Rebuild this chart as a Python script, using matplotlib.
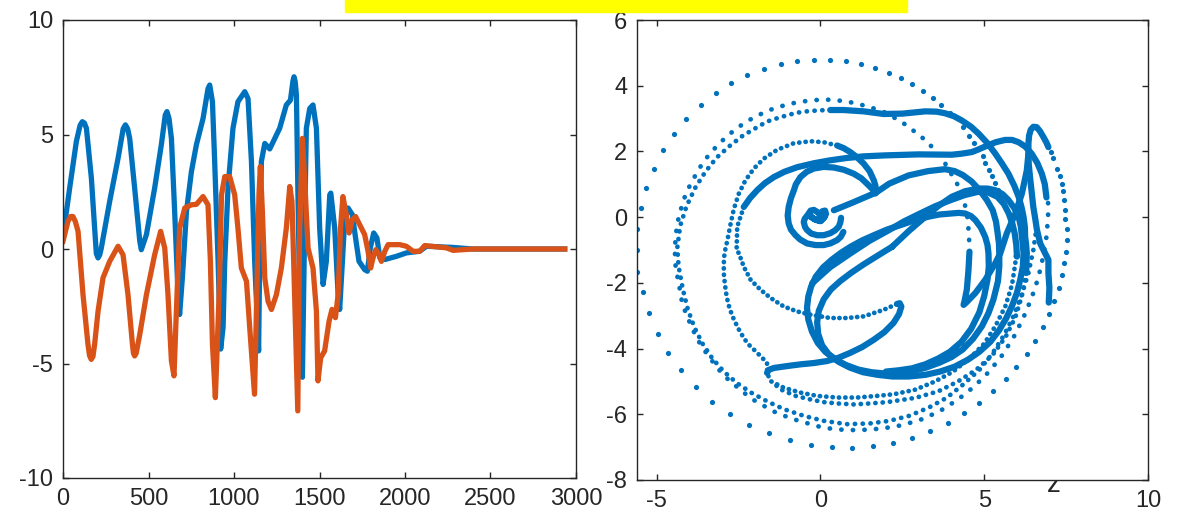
import matplotlib
matplotlib.use("Agg")
import matplotlib.pyplot as plt
from matplotlib.patches import Rectangle

plt.rcParams['font.family'] = ['Liberation Sans', 'DejaVu Sans']
plt.rcParams['axes.unicode_minus'] = False

BLUE = '#0072BD'
ORANGE = '#D95319'
INK = '#262626'

# ---- left panel: two time series ----
t_blue = [0, 39, 78, 100, 113, 125, 137, 166, 185, 195, 205, 215, 224, 273, 322, 352, 365, 378,
          390, 419, 449, 458, 488, 536, 575, 598, 608, 620, 634, 653, 673, 682, 698, 722, 751,
          780, 819, 848, 858, 874, 887, 907, 922, 936, 946, 965, 994, 1023, 1063, 1082, 1102,
          1121, 1144, 1150, 1160, 1180, 1209, 1267, 1306, 1330, 1345, 1351, 1358, 1365, 1374,
          1384, 1400, 1413, 1423, 1443, 1462, 1482, 1501, 1521, 1540, 1560, 1566, 1589, 1609,
          1618, 1634, 1648, 1667, 1692, 1711, 1731, 1764, 1780, 1797, 1817, 1836, 1853, 1882,
          1950, 2008, 2086, 2125, 2279, 2396, 2934]
v_blue = [0.55, 2.66, 4.69, 5.4, 5.56, 5.5, 5.27, 3.09, 0.91, -0.2, -0.39, -0.25, 0.04, 2.08,
          3.96, 5.25, 5.42, 5.25, 4.83, 2.66, 0.34, -0.03, 0.63, 2.66, 4.55, 5.85, 6.0, 5.7,
          4.83, 1.64, -1.99, -2.86, -1.26, 1.64, 3.38, 4.55, 5.70, 7.0, 7.16, 6.43, 3.82, -0.54,
          -4.37, -3.44, -0.54, 2.66, 5.27, 6.43, 6.87, 6.57, 3.82, -0.54, -4.45, -0.54, 3.82,
          4.61, 4.37, 5.27, 6.29, 6.5, 7.35, 7.52, 7.3, 6.72, 2.37, -1.99, -5.6, 0.91, 5.27,
          6.14, 6.29, 5.27, 0.91, -1.55, -0.54, 2.37, 2.44, 0.91, -1.99, -2.64, -0.54, 1.35,
          1.79, 1.50, 0.48, -0.54, -0.90, -0.97, 0.04, 0.7, 0.48, -0.39, -0.46, -0.32, -0.17,
          -0.1, 0.12, 0.07, 0.0, 0.0]

t_orange = [0, 29, 45, 58, 72, 88, 117, 146, 155, 165, 175, 185, 205, 234, 273, 322, 351, 380,
            406, 412, 419, 428, 449, 488, 536, 571, 595, 614, 634, 649, 663, 682, 712, 751, 780,
            819, 848, 862, 874, 891, 913, 927, 946, 975, 1004, 1023, 1043, 1073, 1092, 1120,
            1131, 1146, 1154, 1166, 1180, 1199, 1219, 1248, 1277, 1306, 1326, 1339, 1349, 1373,
            1384, 1400, 1413, 1433, 1462, 1482, 1491, 1507, 1530, 1556, 1573, 1593, 1609, 1623,
            1637, 1657, 1673, 1692, 1711, 1735, 1764, 1784, 1799, 1813, 1829, 1848, 1862, 1882,
            1901, 1969, 2008, 2047, 2086, 2115, 2242, 2281, 2396, 2934]
v_orange = [0.34, 1.21, 1.42, 1.42, 1.2, 0.77, -1.99, -4.16, -4.65, -4.82, -4.7, -4.16, -2.71,
            -1.26, -0.54, 0.12, -0.25, -1.99, -4.16, -4.55, -4.67, -4.55, -3.73, -1.99, -0.25,
            0.77, 0.04, -1.99, -4.89, -5.54, -2.71, 0.91, 1.79, 1.93, 1.95, 2.29, 1.93, -0.54,
            -4.16, -6.49, -1.99, 2.37, 3.16, 3.16, 2.37, 0.91, -0.83, -1.41, -3.44, -6.34,
            -2.71, 2.37, 3.6, 1.64, -1.26, -2.28, -2.64, -1.99, -0.83, 0.91, 2.73, 2.08, -0.54,
            -7.07, 0.91, 4.83, 3.09, 0.04, -0.83, -2.71, -5.76, -4.75, -4.45, -3.15, -2.64,
            -3.0, -1.99, 0.91, 2.29, 1.50, 0.7, 1.28, 1.42, 1.06, 0.63, -0.1, -0.83, -0.39,
            -0.03, -0.24, -0.54, -0.1, 0.19, 0.19, 0.12, -0.1, -0.1, 0.15, 0.05, -0.06, 0.0,
            0.0]

# ---- right panel: phase portrait ----
# outermost sparse ring, one entry per visible dot
ring_a_x = [2.08, 1.68, 1.24, 0.79, 0.30, -0.20, -0.71, -1.20, -1.72, -2.23, -2.72, -3.20, -3.66,
            -4.09, -4.47, -4.81, -5.09, -5.33, -5.49, -5.59, -5.61, -5.59, -5.43, -5.23, -4.96,
            -4.64, -4.25, -3.79, -3.30, -2.75, -2.17, -1.56, -0.94, -0.30, 0.34, 0.97, 1.61,
            2.20, 2.80, 3.35, 3.88, 4.39, 4.85, 5.27, 5.65, 5.98, 6.30, 6.56, 6.79, 6.98, 7.14,
            7.27, 7.37, 7.45, 7.50, 7.52, 7.52, 7.48, 7.47, 7.45, 7.40, 7.37, 7.30, 7.22, 7.11,
            7.03, 2.46, 2.81, 3.13, 3.44, 3.69, 3.96, 4.36, 4.54, 4.70, 4.95, 5.03, 5.15, 5.23,
            5.34, 5.42]
ring_a_y = [4.38, 4.54, 4.66, 4.74, 4.78, 4.79, 4.75, 4.66, 4.52, 4.33, 4.08, 3.77, 3.42, 3.00,
            2.54, 2.03, 1.48, 0.90, 0.28, -0.35, -1.00, -1.66, -2.29, -2.93, -3.55, -4.12,
            -4.66, -5.16, -5.62, -5.99, -6.32, -6.58, -6.79, -6.93, -7.01, -7.02, -6.97, -6.86,
            -6.71, -6.51, -6.25, -5.97, -5.65, -5.30, -4.94, -4.55, -4.17, -3.76, -3.35, -2.95,
            -2.55, -2.15, -1.77, -1.39, -1.05, -0.70, -0.36, -0.07, 0.23, 0.52, 0.79, 1.02,
            1.25, 1.48, 1.81, 1.98, 4.22, 4.04, 3.84, 3.62, 3.42, 3.17, 2.73, 2.48, 2.27, 1.85,
            1.65, 1.45, 1.24, 1.04, 0.84]

# second ring (outer of the dotted pair)
ring_b1_x = [4.55, 4.54, 4.52, 4.50, 4.45, 4.39, 4.32, 4.22, 4.12, 3.96, 3.81, 3.66, 3.48, 3.30,
             3.12, 2.91, 2.69, 2.47, 2.23, 1.96, 1.69, 1.39, 1.10, 0.79, 0.47, 0.13, -0.20,
             -0.54, -0.88, -1.22, -1.55, -1.88, -2.20, -2.52, -2.81, -3.09, -3.35, -3.59, -3.79,
             -3.98, -4.14, -4.26, -4.36, -4.42, -4.44, -4.44, -4.37, -4.29, -4.22, -4.09, -3.94,
             -3.79, -3.61, -3.40, -3.17, -2.93, -2.64, -2.34, -2.03, -1.68, -1.39, -1.04, -0.66,
             -0.30, 0.05, 0.43, 0.81, 1.19, 1.54, 1.91, 2.5, 3.1, 3.65, 4.2, 4.7, 5.15, 5.55,
             5.9, 6.2, 6.45, 6.65, 6.8, 6.9, 6.95, 6.95]
ring_b1_y = [-1.05, -0.70, -0.39, -0.09, 0.21, 0.46, 0.72, 0.92, 1.12, 1.37, 1.63, 1.83, 2.05,
             2.25, 2.41, 2.58, 2.74, 2.91, 3.04, 3.19, 3.29, 3.38, 3.46, 3.52, 3.56, 3.58, 3.56,
             3.52, 3.46, 3.37, 3.26, 3.11, 2.94, 2.73, 2.50, 2.24, 1.96, 1.66, 1.32, 0.98, 0.62,
             0.24, -0.15, -0.57, -0.96, -1.37, -1.79, -2.21, -2.62, -2.97, -3.32, -3.65, -3.96,
             -4.25, -4.56, -4.84, -5.09, -5.34, -5.57, -5.77, -5.93, -6.07, -6.20, -6.30, -6.40,
             -6.45, -6.48, -6.48, -6.46, -6.43, -6.33, -6.15, -5.9, -5.55, -5.15, -4.7, -4.2,
             -3.65, -3.05, -2.45, -1.85, -1.2, -0.6, 0.0, 0.6]

# inner of the dotted pair (its top turns into the solid top line)
ring_b2_x = [0.30, -0.05, -0.41, -0.71, -1.02, -1.32, -1.63, -1.96, -2.37, -2.78, -3.17, -3.52,
             -3.83, -4.09, -4.28, -4.37, -4.33, -4.2, -4.05, -3.85, -3.6, -3.3, -2.95, -2.55,
             -2.1, -1.6, -1.1, -0.5, 0.1, 0.8, 1.5, 2.1, 2.7, 3.3, 3.85, 4.35, 4.85, 5.25, 5.6,
             5.9, 6.15, 6.35, 6.5, 6.6]
ring_b2_y = [3.26, 3.25, 3.22, 3.18, 3.10, 3.01, 2.91, 2.72, 2.48, 2.16, 1.81, 1.37, 0.88, 0.33,
             -0.26, -0.93, -1.5, -2.2, -2.8, -3.35, -3.85, -4.3, -4.7, -5.05, -5.35, -5.62,
             -5.85, -6.05, -6.2, -6.3, -6.28, -6.2, -6.05, -5.8, -5.5, -5.1, -4.65, -4.15, -3.6,
             -3.0, -2.35, -1.7, -1.0, -0.3]

top_x = [0.30, 0.71, 1.32, 1.93, 2.5, 3.20, 3.55, 3.81, 4.08, 4.32, 4.6, 4.83, 5.1, 5.34, 5.55,
         5.74, 5.92, 6.05, 6.14, 6.20, 6.24, 6.25, 6.28, 6.30, 6.29, 6.28]
top_y = [3.26, 3.26, 3.22, 3.14, 3.15, 3.22, 3.21, 3.16, 3.07, 2.94, 2.75, 2.54, 2.25, 1.93, 1.62,
         1.32, 0.95, 0.62, 0.3, 0.01, -0.3, -0.60, -0.85, -1.10, -1.4, -1.7]

ring_c2_x = [6.28, 6.15, 5.95, 5.65, 5.25, 4.75, 4.2, 3.6, 2.9, 2.03, 1.52, 1.02, 0.51, 0.10,
             -0.30, -0.76, -1.2, -1.5]
ring_c2_y = [-1.7, -2.4, -3.05, -3.65, -4.2, -4.65, -5.0, -5.3, -5.5, -5.63, -5.67, -5.70, -5.67,
             -5.63, -5.55, -5.44, -5.25, -5.0]

# inner dotted ring: arc above the centre, down the left, hook, bottom row, right side
ring_d_x = [0.51, 0.10, -0.30, -0.81, -1.32, -1.73, -2.03, -2.29, -2.49, -2.64, -2.74, -2.84,
            -2.93, -2.95, -2.95, -2.92, -2.88, -2.82, -2.74, -2.64, -2.49, -2.34, -2.19, -1.98,
            -1.78, -1.63, -1.63, -1.52, -1.12, -0.61, -0.10, 0.51, 1.12, 1.73, 2.24, 2.9, 3.5,
            4.05, 4.55, 5.0, 5.35, 5.65, 5.85, 5.95, 6.0]
ring_d_y = [2.18, 2.28, 2.31, 2.25, 2.05, 1.78, 1.48, 1.12, 0.72, 0.26, -0.19, -0.70, -1.10,
            -1.40, -1.71, -2.01, -2.31, -2.62, -2.87, -3.12, -3.42, -3.68, -3.88, -4.08, -4.28,
            -4.43, -4.74, -4.99, -5.19, -5.34, -5.44, -5.49, -5.49, -5.44, -5.39, -5.25, -5.0,
            -4.7, -4.3, -3.85, -3.3, -2.7, -2.05, -1.4, -0.7]

arc_x = [1.70, 1.68, 1.63, 1.5, 1.32, 1.12, 0.91, 0.71, 0.51]
arc_y = [0.75, 0.95, 1.12, 1.4, 1.63, 1.82, 1.98, 2.1, 2.18]

long_x = [6.9, 6.85, 6.76, 6.62, 6.45, 6.25, 6.05, 5.85, 5.64, 5.35, 5.03, 4.8, 4.62, 4.3, 4.01,
          3.0, 1.98, 1.32, 0.8, 0.30, -0.2, -0.71, -1.1, -1.42, -1.7, -1.93, -2.15, -2.34]
long_y = [0.6, 1.0, 1.32, 1.65, 1.93, 2.15, 2.28, 2.35, 2.35, 2.28, 2.15, 2.05, 1.98, 1.93, 1.90,
          1.91, 1.88, 1.85, 1.8, 1.73, 1.64, 1.52, 1.38, 1.22, 1.03, 0.82, 0.58, 0.31]

fish_x = [-2.34, -2.54, -2.56, -2.49, -2.34, -2.13, -1.83, -1.52, -1.12, -0.71, -0.30, 0.30,
          0.81, 1.32, 1.93, 2.34]
fish_y = [0.31, -0.29, -1.0, -1.10, -1.51, -1.91, -2.21, -2.46, -2.72, -2.87, -2.97, -3.07,
          -3.07, -3.02, -2.82, -2.64]

fin_x = [2.34, 2.42, 2.47, 2.4, 2.23, 1.95, 1.63, 1.28, 0.91, 0.55, 0.20, -0.2, -0.61, -1.0,
         -1.42, -1.58, -1.63]
fin_y = [-2.64, -2.62, -2.72, -2.95, -3.22, -3.5, -3.73, -3.95, -4.13, -4.28, -4.38, -4.44,
         -4.48, -4.53, -4.59, -4.65, -4.74]

heart_x = [0.12, 0.0, -0.15, -0.3, -0.35, -0.3, -0.2, -0.1, -0.02, 0.06, 0.14, 0.17, 0.12, 0.0,
           -0.2, -0.38, -0.48, -0.51, -0.47, -0.41, -0.28, -0.10, 0.10, 0.30, 0.45, 0.56, 0.61,
           0.63]
heart_y = [0.0, -0.12, -0.08, 0.02, 0.12, 0.2, 0.22, 0.16, 0.08, 0.18, 0.2, 0.1, 0.0, -0.12,
           -0.05, 0.08, -0.05, -0.15, -0.3, -0.39, -0.5, -0.55, -0.55, -0.49, -0.4, -0.29, -0.15,
           -0.02]

g_x = [0.70, 0.62, 0.51, 0.30, 0.10, -0.15, -0.41, -0.62, -0.76, -0.90, -0.97, -1.0, -0.97,
       -0.90, -0.81, -0.75, -0.61, -0.42, -0.20, 0.1, 0.41, 0.72, 1.02, 1.25, 1.42, 1.58, 1.68]
g_y = [-0.45, -0.60, -0.70, -0.80, -0.85, -0.85, -0.80, -0.68, -0.55, -0.38, -0.19, 0.05, 0.31,
       0.58, 0.82, 1.0, 1.22, 1.38, 1.48, 1.53, 1.51, 1.44, 1.32, 1.18, 1.02, 0.86, 0.72]

big_x = [0.41, 1.0, 1.70, 2.10, 2.69, 3.28, 3.80, 4.10, 4.35, 4.62, 4.86, 5.08, 5.26, 5.36, 5.41,
         5.45, 5.46, 5.46, 5.42, 5.28, 5.13, 4.93, 4.66, 4.34, 4.00, 3.63, 3.22, 2.81, 2.40,
         1.98, 1.56, 1.16, 0.78, 0.45, 0.15, -0.08, -0.26, -0.37, -0.41, -0.37, -0.28, -0.14,
         0.08, 0.34, 0.62, 0.92, 1.27, 1.63, 2.03, 2.45, 2.86, 3.28, 3.63, 3.98, 4.22, 4.42,
         4.6, 4.73, 4.9, 5.03, 5.10, 5.13, 5.14, 5.1, 5.0, 4.85, 4.6, 4.3, 3.95, 3.6, 3.2, 2.8,
         2.4, 2.0]
big_y = [0.21, 0.45, 0.75, 1.02, 1.27, 1.40, 1.46, 1.40, 1.28, 1.08, 0.82, 0.52, 0.21, -0.14,
         -0.49, -0.8, -1.1, -1.50, -1.95, -2.51, -2.92, -3.32, -3.70, -4.03, -4.26, -4.43, -4.58,
         -4.69, -4.74, -4.76, -4.72, -4.64, -4.50, -4.33, -4.10, -3.83, -3.48, -3.12, -2.76,
         -2.41, -2.10, -1.81, -1.53, -1.30, -1.09, -0.90, -0.71, -0.55, -0.38, -0.24, -0.10,
         0.01, 0.08, 0.11, 0.13, 0.11, 0.03, -0.09, -0.32, -0.60, -0.85, -1.10, -1.5, -1.9,
         -2.4, -2.9, -3.4, -3.8, -4.1, -4.3, -4.48, -4.6, -4.66, -4.7]

inner_x = [2.19, 2.7, 3.20, 3.6, 4.01, 4.42, 4.83, 5.1, 5.34, 5.56, 5.74, 5.92, 6.05, 6.12, 6.15,
           6.18, 6.20, 6.18, 6.1, 6.0, 5.85, 5.67, 5.45, 5.18, 4.85, 4.5, 4.1, 3.65, 3.2, 2.7,
           2.2, 1.75, 1.3, 0.9, 0.55, 0.25, 0.05, -0.07, -0.1, -0.05, 0.1, 0.32, 0.6, 0.93, 1.3,
           1.75, 2.19]
inner_y = [-0.90, -0.42, 0.01, 0.34, 0.62, 0.79, 0.87, 0.87, 0.82, 0.70, 0.52, 0.27, 0.01, -0.3,
           -0.60, -0.85, -1.10, -1.5, -1.9, -2.3, -2.7, -3.08, -3.45, -3.8, -4.1, -4.34, -4.55,
           -4.7, -4.8, -4.85, -4.85, -4.8, -4.72, -4.58, -4.4, -4.17, -3.9, -3.55, -3.2, -2.85,
           -2.5, -2.2, -1.95, -1.7, -1.45, -1.17, -0.90]

diag_x = [-0.25, 0.3, 0.92, 1.5, 2.10, 2.55, 3.04, 3.5, 3.98, 4.4, 4.81, 5.12, 5.40, 5.6, 5.75,
          5.86, 5.93, 5.98, 6.0]
diag_y = [-2.01, -1.52, -1.10, -0.72, -0.39, -0.13, 0.11, 0.33, 0.52, 0.67, 0.77, 0.75, 0.62,
          0.4, 0.11, -0.2, -0.49, -0.85, -1.2]

spike_x = [4.55, 4.52, 4.47, 4.40, 4.37, 4.45, 4.73, 5.03, 5.34, 5.49, 5.69, 5.95, 6.15, 6.30,
           6.35]
spike_y = [-1.05, -1.6, -2.2, -2.55, -2.67, -2.6, -2.31, -1.91, -1.40, -1.10, -0.49, 0.11, 0.72,
           1.42, 1.93]

loop_x = [6.97, 6.99, 6.96, 6.96, 6.86, 6.71, 6.61, 6.55, 6.5, 6.45, 6.4, 6.36, 6.35, 6.35, 6.37,
          6.42, 6.5, 6.6, 6.7, 6.8, 6.9, 6.96]
loop_y = [-2.6, -2.15, -1.71, -1.30, -1.10, -0.80, -0.39, 0.0, 0.3, 0.75, 1.2, 1.6, 1.93, 2.25,
          2.48, 2.66, 2.75, 2.74, 2.62, 2.45, 2.27, 2.13]


def style(ax, xlim, ylim, xticks, yticks):
    ax.set_xlim(*xlim)
    ax.set_ylim(*ylim)
    ax.set_xticks(xticks)
    ax.set_yticks(yticks)
    ax.tick_params(direction='in', length=4.5, width=1.0, color=INK, labelcolor=INK,
                   labelsize=17, top=True, right=True, pad=7)
    for s in ax.spines.values():
        s.set_color(INK)
        s.set_linewidth(1.0)


fig = plt.figure(figsize=(11.83, 5.16), dpi=100)
fig.patch.set_facecolor('white')

fig.patches.append(Rectangle((345 / 1183, 1 - 12 / 516), 562 / 1183, 12 / 516,
                             transform=fig.transFigure, color='#FFFF00', zorder=5))
fig.text(1054 / 1183, 24 / 516, 'z', fontsize=20, color=INK, ha='center', va='baseline',
         zorder=-1)

ax1 = fig.add_axes([63 / 1183, 38 / 516, 513 / 1183, 458 / 516])
ax1.plot(t_blue, v_blue, color=BLUE, lw=3.8, solid_joinstyle='round')
ax1.plot(t_orange, v_orange, color=ORANGE, lw=3.8, solid_joinstyle='round')
style(ax1, (0, 3000), (-10, 10), range(0, 3001, 500), [-10, -5, 0, 5, 10])

ax2 = fig.add_axes([637 / 1183, 36 / 516, 511 / 1183, 460 / 516])
dense = dict(color=BLUE, lw=4.5, solid_capstyle='round', solid_joinstyle='round')


def dotted(ax, x, y, gap):
    ax.plot(x, y, color=BLUE, lw=3.4, linestyle=(0, (0.05, gap)), dash_capstyle='round')


ax2.scatter(ring_a_x, ring_a_y, s=14, color=BLUE, linewidths=0)
dotted(ax2, ring_b1_x, ring_b1_y, 2.4)
dotted(ax2, ring_b2_x, ring_b2_y, 1.6)
dotted(ax2, ring_c2_x, ring_c2_y, 1.5)
dotted(ax2, ring_d_x, ring_d_y, 1.3)
dotted(ax2, fish_x, fish_y, 1.2)
for px, py in [(top_x, top_y), (arc_x, arc_y), (long_x, long_y), (fin_x, fin_y),
               (heart_x, heart_y), (g_x, g_y), (big_x, big_y), (inner_x, inner_y),
               (diag_x, diag_y), (spike_x, spike_y), (loop_x, loop_y)]:
    ax2.plot(px, py, **dense)
style(ax2, (-5.6, 10), (-8, 6), [-5, 0, 5, 10], range(-8, 7, 2))

fig.savefig('out.png', dpi=100)
